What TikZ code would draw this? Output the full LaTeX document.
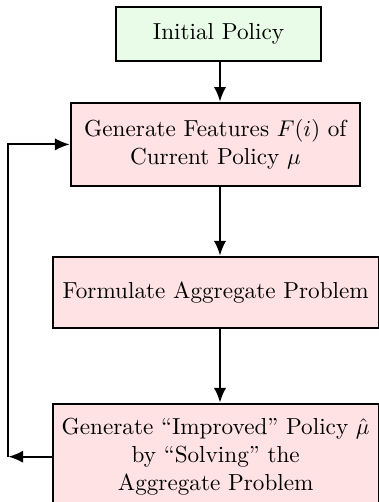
\documentclass[tikz,border=0pt]{standalone}
\usetikzlibrary{arrows.meta}
\definecolor{boxgreen}{RGB}{232,252,232}
\definecolor{boxpink}{RGB}{255,227,228}
\begin{document}
\begin{tikzpicture}[x=0.44pt,y=-0.44pt,
  box/.style={draw=black,line width=0.9pt,align=center,inner sep=0pt,font=\fontsize{10.2}{12.4}\selectfont},
  conn/.style={line width=0.9pt,-{Latex[length=6.5pt,width=5.4pt]}}]
\useasboundingbox (0,0) rectangle (379,502);
\node[box,fill=boxgreen,minimum width=90.6pt,minimum height=23.8pt] (init) at (218.5,34.2) {Initial Policy};
\node[box,fill=boxpink,minimum width=127.3pt,minimum height=36.6pt] (gen) at (215.4,144.4) {Generate Features $F(i)$ of\\Current Policy $\mu$};
\node[box,fill=boxpink,minimum width=143.5pt,minimum height=31.5pt] (form) at (215.7,292.5) {Formulate Aggregate Problem};
\node[box,fill=boxpink,minimum width=143.5pt,minimum height=46.6pt] (impr) at (215.7,456.7) {Generate ``Improved'' Policy $\hat\mu$\\by ``Solving'' the\\Aggregate Problem};
\coordinate (fb) at (8.3,456.7);
\draw[conn] (init.south -| 220,0) -- (gen.north -| 220,0);
\draw[conn] (gen.south -| 220,0) -- (form.north -| 220,0);
\draw[conn] (form.south -| 220,0) -- (impr.north -| 220,0);
\draw[conn] (impr.west) -- (fb);
\draw[conn] (fb) |- (gen.west);
\end{tikzpicture}
\end{document}
